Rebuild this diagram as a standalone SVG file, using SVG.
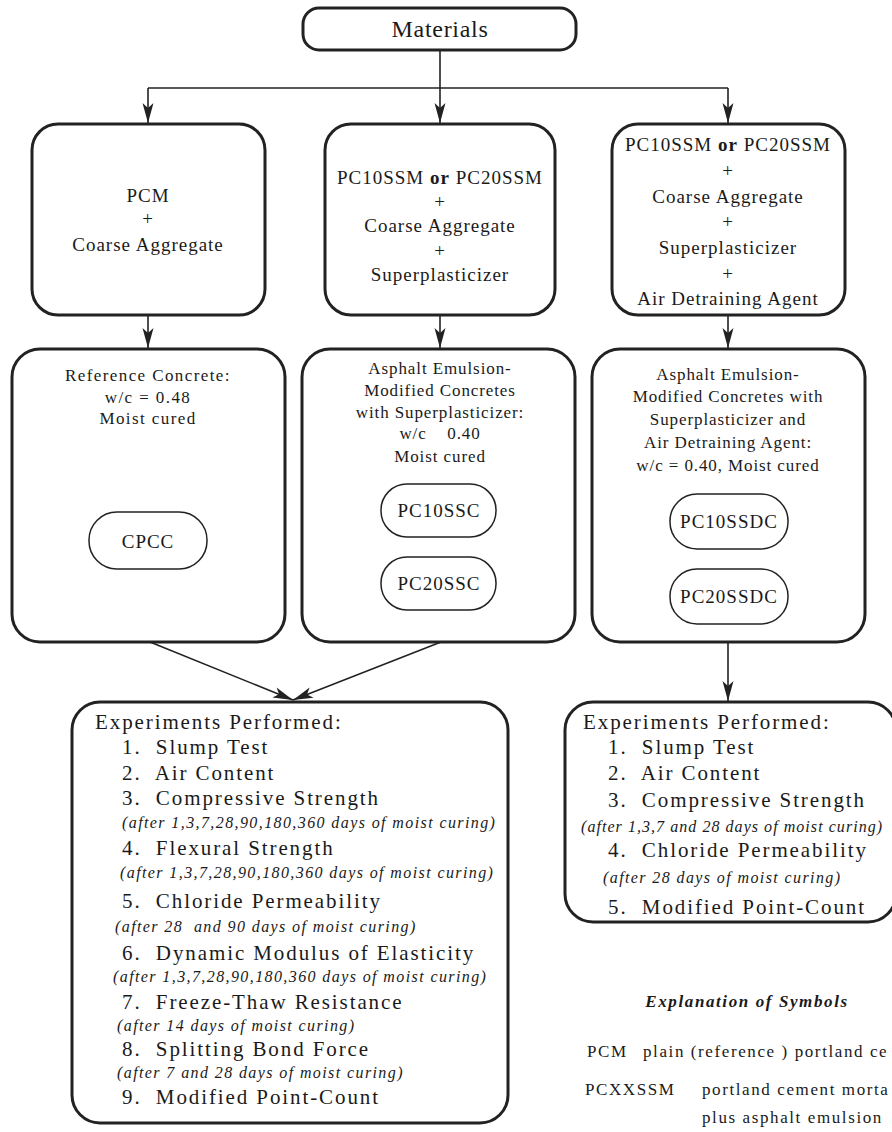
<svg xmlns="http://www.w3.org/2000/svg" width="892" height="1132" viewBox="0 0 892 1132">
<style>
.box{fill:none;stroke:#222;stroke-width:3}
.pill{fill:none;stroke:#222;stroke-width:1.5}
.ln{fill:none;stroke:#222;stroke-width:1.6}
text{font-family:"Liberation Serif","Times New Roman",serif;fill:#1a1a1a;white-space:pre}
.c{text-anchor:middle}
.t19{font-size:19px;letter-spacing:1px}
.t17{font-size:17px;letter-spacing:0.9px}
.t17w{font-size:17px;letter-spacing:1.4px}
.ex{font-size:21px;letter-spacing:1.9px}
.it{font-size:16px;letter-spacing:1.4px;font-style:italic}
.lg{font-size:17px;letter-spacing:1.6px}
</style>
<defs>
<marker id="ah" markerUnits="userSpaceOnUse" markerWidth="22" markerHeight="12" refX="20" refY="5.5" orient="auto" overflow="visible">
<path d="M0,0 L20,5.5 L0,11 L5,5.5 Z" fill="#222"/>
</marker>
</defs>
<g id="connectors">
<line class="ln" x1="440" y1="50" x2="440" y2="88"/>
<line class="ln" x1="148" y1="88" x2="728" y2="88"/>
<line class="ln" x1="148" y1="88" x2="148" y2="123" marker-end="url(#ah)"/>
<line class="ln" x1="440" y1="88" x2="440" y2="123" marker-end="url(#ah)"/>
<line class="ln" x1="728" y1="88" x2="728" y2="123" marker-end="url(#ah)"/>
<line class="ln" x1="148" y1="315" x2="148" y2="348" marker-end="url(#ah)"/>
<line class="ln" x1="440" y1="315" x2="440" y2="348" marker-end="url(#ah)"/>
<line class="ln" x1="728" y1="315" x2="728" y2="348" marker-end="url(#ah)"/>
<line class="ln" x1="150" y1="642" x2="293" y2="700" marker-end="url(#ah)"/>
<line class="ln" x1="441" y1="642" x2="293" y2="700" marker-end="url(#ah)"/>
<line class="ln" x1="728" y1="642" x2="728" y2="701" marker-end="url(#ah)"/>
</g>
<g id="materials">
<rect class="box" x="303" y="8" width="273" height="42" rx="16"/>
<text class="c" x="440" y="37" style="font-size:24px;letter-spacing:0.7px">Materials</text>
</g>
<g id="mix-pcm">
<rect class="box" x="32" y="124" width="233" height="191" rx="26"/>
<text class="c t19" x="148" y="202">PCM</text>
<text class="c t19" x="148" y="225">+</text>
<text class="c t19" x="148" y="251">Coarse Aggregate</text>
</g>
<g id="mix-ss">
<rect class="box" x="325" y="124" width="230" height="191" rx="26"/>
<text class="c t19" x="440" y="184">PC10SSM <tspan font-weight="bold">or</tspan> PC20SSM</text>
<text class="c t19" x="440" y="208">+</text>
<text class="c t19" x="440" y="232">Coarse Aggregate</text>
<text class="c t19" x="440" y="257">+</text>
<text class="c t19" x="440" y="281">Superplasticizer</text>
</g>
<g id="mix-ssd">
<rect class="box" x="612" y="124" width="233" height="191" rx="26"/>
<text class="c t19" x="728" y="151">PC10SSM <tspan font-weight="bold">or</tspan> PC20SSM</text>
<text class="c t19" x="728" y="177">+</text>
<text class="c t19" x="728" y="203">Coarse Aggregate</text>
<text class="c t19" x="728" y="228">+</text>
<text class="c t19" x="728" y="254">Superplasticizer</text>
<text class="c t19" x="728" y="280">+</text>
<text class="c t19" x="728" y="305">Air Detraining Agent</text>
</g>
<g id="ref-concrete">
<rect class="box" x="12" y="349" width="273" height="293" rx="28"/>
<text class="c t17w" x="148" y="381">Reference Concrete:</text>
<text class="c t17w" x="148" y="403">w/c = 0.48</text>
<text class="c t17w" x="148" y="424">Moist cured</text>
<rect class="pill" x="89" y="512" width="118" height="57" rx="28"/>
<text class="c t19" x="148" y="548">CPCC</text>
</g>
<g id="ss-concrete">
<rect class="box" x="302" y="349" width="273" height="293" rx="28"/>
<text class="c t17" x="440" y="374">Asphalt Emulsion-</text>
<text class="c t17" x="440" y="396">Modified Concretes</text>
<text class="c t17" x="440" y="418">with Superplasticizer:</text>
<text class="c t17" x="440" y="439">w/c    0.40</text>
<text class="c t17" x="440" y="462">Moist cured</text>
<rect class="pill" x="381" y="484" width="115" height="53" rx="26"/>
<text class="c t19" x="439" y="517">PC10SSC</text>
<rect class="pill" x="381" y="557" width="115" height="53" rx="26"/>
<text class="c t19" x="439" y="590">PC20SSC</text>
</g>
<g id="ssd-concrete">
<rect class="box" x="592" y="349" width="273" height="293" rx="28"/>
<text class="c t17" x="728" y="380">Asphalt Emulsion-</text>
<text class="c t17" x="728" y="402">Modified Concretes with</text>
<text class="c t17" x="728" y="425">Superplasticizer and</text>
<text class="c t17" x="728" y="448">Air Detraining Agent:</text>
<text class="c t17" x="728" y="471">w/c = 0.40, Moist cured</text>
<rect class="pill" x="670" y="494" width="118" height="55" rx="27"/>
<text class="c t19" x="729" y="528">PC10SSDC</text>
<rect class="pill" x="670" y="569" width="118" height="55" rx="27"/>
<text class="c t19" x="729" y="603">PC20SSDC</text>
</g>
<g id="experiments-main">
<rect class="box" x="72" y="702" width="436" height="421" rx="28"/>
<text class="ex" x="95" y="729">Experiments Performed:</text>
<text class="ex" x="122" y="754">1.  Slump Test</text>
<text class="ex" x="122" y="780">2.  Air Content</text>
<text class="ex" x="122" y="805">3.  Compressive Strength</text>
<text class="it" x="122" y="828">(after 1,3,7,28,90,180,360 days of moist curing)</text>
<text class="ex" x="122" y="855">4.  Flexural Strength</text>
<text class="it" x="120" y="878">(after 1,3,7,28,90,180,360 days of moist curing)</text>
<text class="ex" x="122" y="908">5.  Chloride Permeability</text>
<text class="it" x="115" y="932">(after 28  and 90 days of moist curing)</text>
<text class="ex" x="122" y="960">6.  Dynamic Modulus of Elasticity</text>
<text class="it" x="113" y="982">(after 1,3,7,28,90,180,360 days of moist curing)</text>
<text class="ex" x="122" y="1009">7.  Freeze-Thaw Resistance</text>
<text class="it" x="117" y="1031">(after 14 days of moist curing)</text>
<text class="ex" x="122" y="1056">8.  Splitting Bond Force</text>
<text class="it" x="117" y="1078">(after 7 and 28 days of moist curing)</text>
<text class="ex" x="122" y="1104">9.  Modified Point-Count</text>
</g>
<g id="experiments-ssd">
<rect class="box" x="565" y="702" width="331" height="220" rx="28"/>
<text class="ex" x="583" y="729">Experiments Performed:</text>
<text class="ex" x="608" y="754">1.  Slump Test</text>
<text class="ex" x="608" y="780">2.  Air Content</text>
<text class="ex" x="608" y="807">3.  Compressive Strength</text>
<text class="it" x="581" y="832" style="letter-spacing:1.05px">(after 1,3,7 and 28 days of moist curing)</text>
<text class="ex" x="608" y="857">4.  Chloride Permeability</text>
<text class="it" x="603" y="883">(after 28 days of moist curing)</text>
<text class="ex" x="608" y="914">5.  Modified Point-Count</text>
</g>
<g id="legend">
<text class="c" x="747" y="1007" style="font-size:17px;letter-spacing:1.6px;font-weight:bold;font-style:italic">Explanation of Symbols</text>
<text class="lg" x="587" y="1057">PCM</text>
<text class="lg" x="643" y="1057">plain (reference ) portland ce</text>
<text class="lg" x="585" y="1095">PCXXSSM</text>
<text class="lg" x="702" y="1095">portland cement morta</text>
<text class="lg" x="702" y="1123">plus asphalt emulsion</text>
</g>
</svg>
